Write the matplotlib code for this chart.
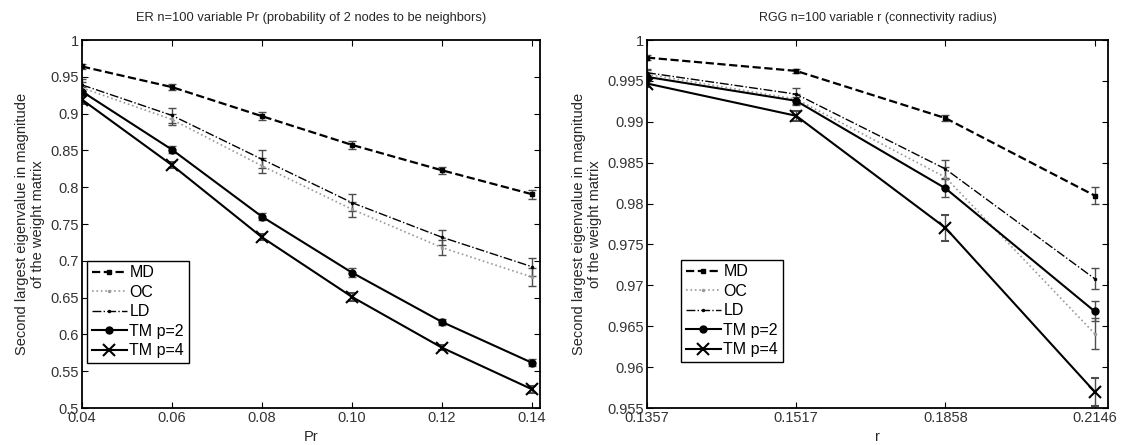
import numpy as np
import matplotlib
matplotlib.use("Agg")
import matplotlib.pyplot as plt

plt.rcParams['font.family'] = ['Liberation Sans', 'DejaVu Sans']

# left panel: ER graphs
pr = [0.04, 0.06, 0.08, 0.10, 0.12, 0.14]
pr_labels = ['0.04', '0.06', '0.08', '0.10', '0.12', '0.14']
er_md = [0.9640, 0.9360, 0.8965, 0.8575, 0.8230, 0.7905]
er_oc = [0.9350, 0.8920, 0.8290, 0.7700, 0.7180, 0.6780]
er_ld = [0.9390, 0.8975, 0.8380, 0.7790, 0.7320, 0.6920]
er_tm2 = [0.9300, 0.8510, 0.7600, 0.6840, 0.6170, 0.5615]
er_tm4 = [0.9190, 0.8300, 0.7320, 0.6510, 0.5820, 0.5255]
er_md_err = [0.003, 0.004, 0.005, 0.005, 0.005, 0.006]
er_oc_err = [0.008, 0.008, 0.010, 0.010, 0.010, 0.012]
er_ld_err = [0.008, 0.010, 0.012, 0.012, 0.010, 0.012]
er_tm2_err = [0.006, 0.005, 0.005, 0.006, 0.004, 0.005]
er_tm4_err = [0.006, 0.004, 0.004, 0.005, 0.003, 0.005]

# right panel: RGG graphs (categorical x)
r_labels = ['0.1357', '0.1517', '0.1858', '0.2146']
rgg_md = [0.99785, 0.99622, 0.99045, 0.98098]
rgg_oc = [0.99580, 0.99277, 0.98321, 0.96410]
rgg_ld = [0.99600, 0.99338, 0.98423, 0.97082]
rgg_tm2 = [0.99549, 0.99256, 0.98187, 0.96683]
rgg_tm4 = [0.99468, 0.99073, 0.97704, 0.95700]
rgg_md_err = [0.0003, 0.0002, 0.0004, 0.0010]
rgg_oc_err = [0.0005, 0.0006, 0.0012, 0.0019]
rgg_ld_err = [0.0005, 0.0007, 0.0011, 0.0013]
rgg_tm2_err = [0.0005, 0.0005, 0.0011, 0.0012]
rgg_tm4_err = [0.0004, 0.0006, 0.0016, 0.0017]

names = ['MD', 'OC', 'LD', 'TM p=2', 'TM p=4']
styles = [
    dict(ls='--', marker='s', ms=3.5, lw=1.6, color='k'),
    dict(ls=':', marker='.', ms=3, lw=1.2, color='0.6'),
    dict(ls='-.', marker='.', ms=3, lw=1.0, color='k'),
    dict(ls='-', marker='o', ms=5, lw=1.5, color='k'),
    dict(ls='-', marker='x', ms=9, mew=1.5, lw=1.5, color='k'),
]
ylab = 'Second largest eigenvalue in magnitude\nof the weight matrix'

fig = plt.figure(figsize=(11.31, 4.45), dpi=100)
ax1 = fig.add_axes([82/1131, 37/445, 458/1131, 368/445])
ax2 = fig.add_axes([647/1131, 37/445, 461/1131, 368/445])


def draw(ax, x, series, errs, anchor):
    handles = []
    for name, y, e, st in zip(names, series, errs, styles):
        c = ax.errorbar(x, y, yerr=e, ecolor='0.3', elinewidth=1.0, capsize=3,
                        capthick=1.0, label=name, **st)
        handles.append(c[0])
    for s in ax.spines.values():
        s.set_linewidth(1.3)
    ax.tick_params(direction='in', length=4, labelsize=10.5, labelcolor='0.2',
                   pad=2, top=True, right=True, labeltop=False,
                   labelright=False)
    ax.set_ylabel(ylab, fontsize=10.5, labelpad=4, color='0.15')
    ax.legend(handles, names, loc='lower left', bbox_to_anchor=anchor,
              fontsize=11.5, frameon=True, fancybox=False, edgecolor='k',
              framealpha=1, handlelength=2.2, handletextpad=0.15,
              borderpad=0.3, labelspacing=0.28, borderaxespad=0)


draw(ax1, pr, [er_md, er_oc, er_ld, er_tm2, er_tm4],
     [er_md_err, er_oc_err, er_ld_err, er_tm2_err, er_tm4_err], (0.011, 0.122))
ax1.set_xlim(0.04, 0.1418)
ax1.set_ylim(0.5, 1.0)
ax1.set_xticks(pr)
ax1.set_xticklabels(pr_labels)
ax1.set_yticks(np.arange(0.5, 1.001, 0.05))
ax1.set_yticklabels(['0.5', '0.55', '0.6', '0.65', '0.7', '0.75', '0.8',
                     '0.85', '0.9', '0.95', '1'])
ax1.set_xlabel('Pr', fontsize=10.5, labelpad=4, color='0.15')
ax1.set_title('ER n=100 variable Pr (probability of 2 nodes to be neighbors)',
              fontsize=9.3, pad=14, color='0.15')

xr = np.arange(1, len(r_labels) + 1)
draw(ax2, xr, [rgg_md, rgg_oc, rgg_ld, rgg_tm2, rgg_tm4],
     [rgg_md_err, rgg_oc_err, rgg_ld_err, rgg_tm2_err, rgg_tm4_err],
     (0.074, 0.125))
ax2.set_xlim(1, 4.09)
ax2.set_ylim(0.955, 1.0)
ax2.set_xticks(xr)
ax2.set_xticklabels(r_labels)
ax2.set_yticks(np.arange(0.955, 1.0001, 0.005))
ax2.set_yticklabels(['0.955', '0.96', '0.965', '0.97', '0.975', '0.98',
                     '0.985', '0.99', '0.995', '1'])
ax2.set_xlabel('r', fontsize=10.5, labelpad=4, color='0.15')
ax2.set_title('RGG n=100 variable r (connectivity radius)', fontsize=9,
              pad=14, color='0.15')

fig.savefig('out.png', dpi=100)
